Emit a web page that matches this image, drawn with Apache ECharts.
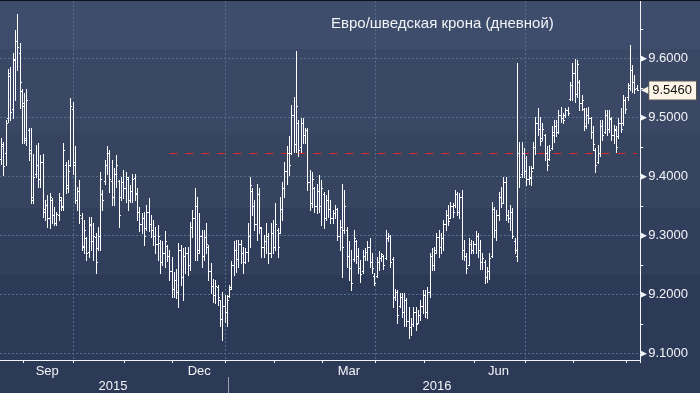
<!DOCTYPE html>
<html><head><meta charset="utf-8">
<script src="https://cdn.jsdelivr.net/npm/echarts@6/dist/echarts.min.js"></script>
<style>
html,body{margin:0;padding:0;background:#2d3a57;}
#c{width:700px;height:393px;background:linear-gradient(to bottom,#3e4d6b 0px,#3e4d6b 49px,#3a4866 49px,#3a4866 133px,#36445f 133px,#36445f 208px,#313f5c 208px,#313f5c 275px,#2d3a57 275px,#2d3a57 100%);}
</style></head><body><div id="c"></div>
<script>
const titleText = 'Евро/шведская крона (дневной)';
const firstDate = '2015-08-18';
const slotCount = 278;

const opens = [
9.430,9.452,9.440,9.500,9.570,9.515,9.600,9.630,9.610,9.545,
9.525,9.465,9.478,9.445,9.365,9.405,9.420,9.395,9.425,9.345,
9.352,9.330,9.360,9.335,9.322,9.335,9.360,9.350,9.420,9.385,
9.420,9.515,9.425,9.360,9.375,9.330,9.282,9.295,9.272,9.318,
9.290,9.298,9.278,9.300,9.370,9.392,9.420,9.440,9.392,9.365,
9.405,9.392,9.365,9.390,9.380,9.395,9.360,9.375,9.398,9.372,
9.340,9.320,9.330,9.312,9.340,9.320,9.310,9.300,9.285,9.288,
9.255,9.270,9.282,9.265,9.240,9.210,9.225,9.205,9.275,9.230,
9.265,9.270,9.250,9.315,9.330,9.350,9.275,9.300,9.265,9.298,
9.280,9.240,9.215,9.200,9.212,9.190,9.158,9.180,9.170,9.198,
9.212,9.250,9.275,9.260,9.285,9.270,9.255,9.272,9.300,9.375,
9.350,9.320,9.370,9.312,9.280,9.290,9.300,9.270,9.305,9.280,
9.310,9.305,9.345,9.380,9.410,9.440,9.440,9.505,9.455,9.490,
9.450,9.490,9.470,9.478,9.390,9.355,9.380,9.350,9.375,9.350,
9.370,9.330,9.360,9.345,9.330,9.338,9.345,9.300,9.315,9.310,
9.310,9.265,9.245,9.260,9.290,9.265,9.245,9.240,9.265,9.272,
9.280,9.255,9.232,9.232,9.255,9.262,9.265,9.262,9.295,9.300,
9.260,9.195,9.205,9.180,9.195,9.170,9.190,9.155,9.145,9.150,
9.170,9.152,9.165,9.180,9.200,9.170,9.205,9.265,9.250,9.275,
9.298,9.280,9.295,9.320,9.335,9.330,9.350,9.352,9.370,9.340,
9.365,9.275,9.265,9.250,9.285,9.275,9.285,9.300,9.275,9.255,
9.255,9.230,9.240,9.265,9.345,9.310,9.335,9.365,9.355,9.390,
9.335,9.330,9.340,9.290,9.265,9.440,9.405,9.440,9.410,9.395,
9.398,9.415,9.450,9.490,9.480,9.465,9.470,9.440,9.430,9.448,
9.470,9.485,9.475,9.505,9.500,9.505,9.512,9.532,9.555,9.575,
9.540,9.560,9.525,9.515,9.485,9.505,9.500,9.475,9.445,9.425,
9.440,9.485,9.475,9.505,9.480,9.498,9.470,9.478,9.468,9.490,
9.490,9.530,9.535,9.555,9.580,9.560,9.550];

const highs = [
9.465,9.459,9.496,9.582,9.586,9.609,9.648,9.675,9.626,9.549,
9.541,9.549,9.482,9.482,9.439,9.453,9.456,9.437,9.439,9.360,
9.369,9.372,9.363,9.349,9.340,9.372,9.366,9.456,9.425,9.428,
9.533,9.527,9.451,9.383,9.394,9.338,9.326,9.298,9.332,9.332,
9.321,9.304,9.315,9.408,9.377,9.428,9.451,9.445,9.428,9.414,
9.437,9.394,9.400,9.411,9.408,9.400,9.386,9.405,9.405,9.380,
9.349,9.338,9.340,9.352,9.363,9.335,9.326,9.315,9.318,9.292,
9.290,9.307,9.284,9.275,9.264,9.239,9.244,9.287,9.284,9.278,
9.281,9.281,9.323,9.343,9.380,9.366,9.338,9.309,9.309,9.321,
9.284,9.253,9.227,9.225,9.216,9.191,9.205,9.199,9.199,9.216,
9.256,9.290,9.292,9.292,9.292,9.281,9.278,9.321,9.400,9.380,
9.360,9.388,9.380,9.315,9.301,9.321,9.304,9.321,9.326,9.355,
9.312,9.366,9.391,9.425,9.451,9.468,9.521,9.535,9.612,9.496,
9.499,9.499,9.482,9.482,9.411,9.408,9.383,9.388,9.403,9.394,
9.374,9.369,9.377,9.360,9.343,9.352,9.346,9.326,9.388,9.377,
9.315,9.290,9.275,9.309,9.292,9.278,9.259,9.275,9.278,9.290,
9.295,9.270,9.236,9.264,9.273,9.270,9.267,9.309,9.304,9.301,
9.264,9.210,9.208,9.202,9.202,9.202,9.194,9.179,9.160,9.179,
9.179,9.174,9.191,9.208,9.208,9.213,9.270,9.278,9.281,9.304,
9.309,9.304,9.326,9.343,9.352,9.357,9.355,9.377,9.374,9.372,
9.377,9.292,9.270,9.295,9.292,9.290,9.307,9.304,9.292,9.270,
9.259,9.247,9.270,9.357,9.349,9.343,9.374,9.383,9.400,9.400,
9.343,9.352,9.346,9.295,9.592,9.459,9.459,9.448,9.434,9.417,
9.417,9.459,9.501,9.516,9.501,9.490,9.472,9.451,9.453,9.485,
9.496,9.496,9.513,9.518,9.507,9.516,9.518,9.561,9.592,9.600,
9.598,9.564,9.538,9.516,9.516,9.518,9.501,9.485,9.448,9.453,
9.496,9.496,9.513,9.513,9.513,9.501,9.487,9.485,9.499,9.516,
9.538,9.535,9.558,9.623,9.589,9.572,9.555];

const lows = [
9.422,9.403,9.420,9.493,9.496,9.499,9.530,9.581,9.516,9.456,
9.456,9.453,9.428,9.355,9.355,9.400,9.383,9.383,9.332,9.326,
9.315,9.312,9.321,9.318,9.318,9.326,9.343,9.343,9.372,9.374,
9.417,9.405,9.355,9.343,9.321,9.275,9.270,9.259,9.264,9.275,
9.259,9.236,9.275,9.275,9.343,9.388,9.405,9.374,9.352,9.352,
9.383,9.315,9.360,9.363,9.357,9.343,9.357,9.357,9.360,9.326,
9.307,9.304,9.284,9.309,9.307,9.298,9.284,9.270,9.259,9.236,
9.250,9.247,9.256,9.225,9.196,9.196,9.194,9.179,9.216,9.191,
9.236,9.233,9.242,9.298,9.259,9.259,9.270,9.247,9.259,9.270,
9.225,9.202,9.188,9.185,9.182,9.146,9.123,9.154,9.146,9.196,
9.210,9.233,9.239,9.247,9.253,9.236,9.253,9.256,9.281,9.335,
9.309,9.292,9.304,9.264,9.264,9.270,9.253,9.264,9.270,9.275,
9.264,9.304,9.326,9.366,9.388,9.403,9.439,9.442,9.442,9.434,
9.442,9.456,9.456,9.377,9.343,9.349,9.340,9.338,9.340,9.318,
9.312,9.326,9.332,9.321,9.321,9.329,9.292,9.275,9.230,9.304,
9.247,9.225,9.208,9.256,9.253,9.236,9.222,9.236,9.259,9.259,
9.247,9.236,9.216,9.230,9.242,9.256,9.244,9.261,9.290,9.247,
9.179,9.191,9.151,9.179,9.162,9.146,9.146,9.126,9.131,9.146,
9.140,9.151,9.157,9.168,9.162,9.160,9.196,9.242,9.242,9.270,
9.264,9.270,9.275,9.309,9.318,9.329,9.332,9.349,9.335,9.329,
9.261,9.259,9.236,9.250,9.270,9.270,9.270,9.264,9.244,9.244,
9.219,9.222,9.227,9.264,9.298,9.292,9.326,9.349,9.355,9.326,
9.323,9.309,9.295,9.270,9.256,9.383,9.400,9.400,9.386,9.388,
9.386,9.414,9.439,9.470,9.453,9.462,9.428,9.411,9.428,9.446,
9.459,9.468,9.473,9.493,9.490,9.501,9.504,9.530,9.530,9.527,
9.535,9.513,9.513,9.479,9.482,9.490,9.465,9.445,9.408,9.423,
9.434,9.462,9.473,9.470,9.476,9.462,9.456,9.442,9.465,9.476,
9.488,9.507,9.530,9.547,9.544,9.541,9.546];

const closes = [
9.455,9.418,9.490,9.575,9.510,9.598,9.630,9.620,9.560,9.520,
9.462,9.530,9.440,9.360,9.400,9.420,9.395,9.425,9.340,9.352,
9.330,9.365,9.335,9.322,9.336,9.365,9.348,9.445,9.380,9.410,
9.520,9.420,9.360,9.375,9.335,9.280,9.310,9.270,9.320,9.290,
9.300,9.255,9.300,9.395,9.360,9.420,9.440,9.395,9.365,9.405,
9.420,9.335,9.390,9.380,9.400,9.360,9.375,9.395,9.370,9.340,
9.320,9.330,9.300,9.340,9.320,9.310,9.300,9.285,9.300,9.255,
9.270,9.290,9.265,9.240,9.210,9.225,9.205,9.275,9.230,9.265,
9.270,9.250,9.315,9.330,9.350,9.270,9.300,9.265,9.298,9.285,
9.240,9.215,9.200,9.215,9.195,9.158,9.180,9.170,9.190,9.210,
9.250,9.275,9.260,9.285,9.270,9.255,9.272,9.300,9.385,9.350,
9.320,9.370,9.315,9.280,9.290,9.300,9.270,9.305,9.280,9.320,
9.280,9.345,9.380,9.410,9.440,9.420,9.505,9.455,9.520,9.445,
9.490,9.470,9.478,9.390,9.355,9.395,9.350,9.375,9.350,9.380,
9.330,9.360,9.345,9.330,9.338,9.345,9.300,9.315,9.280,9.350,
9.265,9.245,9.220,9.295,9.265,9.245,9.235,9.265,9.272,9.280,
9.255,9.245,9.220,9.255,9.262,9.268,9.250,9.295,9.300,9.255,
9.195,9.205,9.165,9.195,9.170,9.190,9.155,9.145,9.150,9.170,
9.150,9.165,9.180,9.200,9.170,9.205,9.265,9.250,9.270,9.298,
9.280,9.295,9.320,9.335,9.325,9.350,9.340,9.370,9.340,9.365,
9.275,9.265,9.245,9.285,9.275,9.285,9.300,9.275,9.255,9.262,
9.230,9.240,9.262,9.345,9.310,9.335,9.365,9.355,9.390,9.335,
9.330,9.340,9.300,9.275,9.440,9.400,9.440,9.410,9.395,9.400,
9.410,9.450,9.490,9.480,9.460,9.480,9.440,9.420,9.445,9.475,
9.485,9.475,9.505,9.500,9.495,9.512,9.508,9.555,9.575,9.540,
9.590,9.525,9.530,9.485,9.505,9.500,9.475,9.455,9.420,9.440,
9.485,9.470,9.505,9.480,9.500,9.470,9.480,9.450,9.490,9.480,
9.530,9.515,9.550,9.580,9.560,9.548,9.546];

const yLabelValues = [9.1, 9.2, 9.3, 9.4, 9.5, 9.6];
const yTickValues = [9.1, 9.15, 9.2, 9.25, 9.3, 9.35, 9.4, 9.45, 9.5, 9.55, 9.6, 9.65];
const yMin = 9.0890, yMax = 9.6975;
const lastPrice = 9.546;
const refLevel = 9.4393;
const refLineStartIdx = 73;
const monthNamesShown = {'09':'Sep','12':'Dec','03':'Mar','06':'Jun'};
const monthLabelIdx = [20, 86, 151, 216];
const yearLabelIdx = [48, 187];

// categories: weekdays from first date
const categories = [];
(function(){
  const p = firstDate.split('-').map(Number);
  const d = new Date(Date.UTC(p[0], p[1]-1, p[2]));
  while (categories.length < slotCount) {
    const wd = d.getUTCDay();
    if (wd !== 0 && wd !== 6) categories.push(d.toISOString().slice(0,10));
    d.setUTCDate(d.getUTCDate()+1);
  }
})();
const monthStart = new Set(), quarterStart = new Set();
let yearStart = -1;
for (let i = 1; i < categories.length; i++) {
  const m = categories[i].slice(5,7), pm = categories[i-1].slice(5,7);
  if (m !== pm) {
    monthStart.add(i);
    if (['01','04','07','10'].includes(m)) quarterStart.add(i);
    if (m === '01') yearStart = i;
  }
}

const ohlc = opens.map((o,i)=>[i, o, highs[i], lows[i], closes[i]]);

const FONT = "'Liberation Sans', Arial, sans-serif";
const WHITE = '#f2f4f7';
const GRID = '#50708c';

const chart = echarts.init(document.getElementById('c'), null, {renderer:'canvas'});
chart.setOption({
  animation:false,
  backgroundColor:'transparent',
  textStyle:{fontFamily:FONT},
  title:{text:titleText, left:331, top:16, padding:0,
    textStyle:{color:WHITE, fontSize:15, fontWeight:'normal', fontFamily:FONT}},
  graphic:[{type:'rect', shape:{x:0,y:0,width:700,height:1}, style:{fill:'#0b1019'}, z:100}],
  grid:[
    {left:0, right:52, top:1, bottom:33, containLabel:false},
    {left:0, right:52, top:377, bottom:0, containLabel:false}
  ],
  xAxis:[{
    type:'category', data:categories, boundaryGap:true, gridIndex:0,
    axisLine:{show:true, lineStyle:{color:WHITE, width:1}},
    axisTick:{show:true, length:3, interval:(i)=>monthStart.has(i), lineStyle:{color:WHITE}},
    axisLabel:{interval:(i)=>monthLabelIdx.includes(i), color:WHITE, fontSize:13, margin:5,
      formatter:(v)=>monthNamesShown[v.slice(5,7)] || ''},
    splitLine:{show:true, interval:(i)=>quarterStart.has(i), lineStyle:{color:GRID, type:[2,2], width:1}}
  },{
    type:'category', data:categories, boundaryGap:true, gridIndex:1, position:'top',
    axisLine:{show:false}, axisTick:{show:false}, splitLine:{show:false},
    axisLabel:{inside:true, interval:(i)=>yearLabelIdx.includes(i), color:WHITE, fontSize:13, margin:3,
      formatter:(v)=>v.slice(0,4)}
  }],
  yAxis:[{
    type:'value', position:'right', min:yMin, max:yMax, gridIndex:0,
    axisLine:{show:true, lineStyle:{color:WHITE, width:1}},
    axisTick:{show:true, length:3, customValues:yTickValues, lineStyle:{color:WHITE}},
    axisLabel:{customValues:yLabelValues, margin:0, color:WHITE, fontSize:13,
      formatter:(v)=>'{a|▶}{t|'+v.toFixed(4)+'}',
      rich:{a:{color:WHITE, fontSize:9, padding:[0,1,0,0]}, t:{color:WHITE, fontSize:13, fontFamily:FONT}}},
    splitLine:{show:false}
  },{
    type:'value', position:'right', min:yMin, max:yMax, gridIndex:0,
    axisLine:{show:false}, axisTick:{show:false}, splitLine:{show:false},
    axisLabel:{customValues:[lastPrice], margin:1,
      formatter:(v)=>'{p|◀}{t|'+v.toFixed(4)+'}',
      rich:{p:{color:'#fdf6e8', fontSize:11, padding:[0,0,0,0]},
        t:{color:'#111', fontSize:13, fontFamily:FONT, backgroundColor:'#fdf6e8',
        borderColor:'#555', borderWidth:1, padding:[3,4,2,3]}}}
  },{
    type:'value', gridIndex:1, show:false, min:0, max:1
  }],
  series:[{
    type:'line', data:[], silent:true, z:1, xAxisIndex:0, yAxisIndex:0,
    markLine:{silent:true, symbol:['none','none'], label:{show:false}, animation:false,
      lineStyle:{color:GRID, type:[2,2], width:1},
      data: yLabelValues.map(v=>({yAxis:v}))}
  },{
    type:'line', data:[], silent:true, z:6, xAxisIndex:0, yAxisIndex:0,
    markLine:{silent:true, symbol:['none','none'], label:{show:false}, animation:false,
      lineStyle:{color:'#e0242c', type:[8,8], width:1, opacity:1},
      data:[[{coord:[refLineStartIdx, refLevel]},{coord:[opens.length-1, refLevel]}]]}
  },{
    type:'custom', data:[[yearStart, 0]], silent:true, xAxisIndex:1, yAxisIndex:2, clip:false,
    renderItem:function(params, api){
      const p = api.coord([api.value(0), 0]);
      const half = api.size([1, 0])[0] / 2;
      const x = Math.round(p[0] - half) + 0.5;
      const cs = params.coordSys;
      return {type:'line', shape:{x1:x, y1:cs.y, x2:x, y2:cs.y + cs.height},
        style:{stroke:'#9aa0ab', lineWidth:1}};
    }
  },{
    type:'custom', data:ohlc, z:5, clip:true, xAxisIndex:0, yAxisIndex:0,
    encode:{x:0, y:[1,2,3,4]},
    renderItem:function(params, api){
      const i = api.value(0);
      const o = api.coord([i, api.value(1)]);
      const h = api.coord([i, api.value(2)]);
      const l = api.coord([i, api.value(3)]);
      const c = api.coord([i, api.value(4)]);
      const x = Math.round(o[0]) + 0.5;
      const st = {stroke:'#ffffff', lineWidth:1};
      const yo = Math.round(o[1]) + 0.5, yc = Math.round(c[1]) + 0.5;
      return {type:'group', children:[
        {type:'line', shape:{x1:x, y1:Math.round(h[1]), x2:x, y2:Math.round(l[1])+1}, style:st},
        {type:'line', shape:{x1:x-1.5, y1:yo, x2:x-0.5, y2:yo}, style:st},
        {type:'line', shape:{x1:x+0.5, y1:yc, x2:x+1.5, y2:yc}, style:st}
      ]};
    }
  }]
});
</script></body></html>
